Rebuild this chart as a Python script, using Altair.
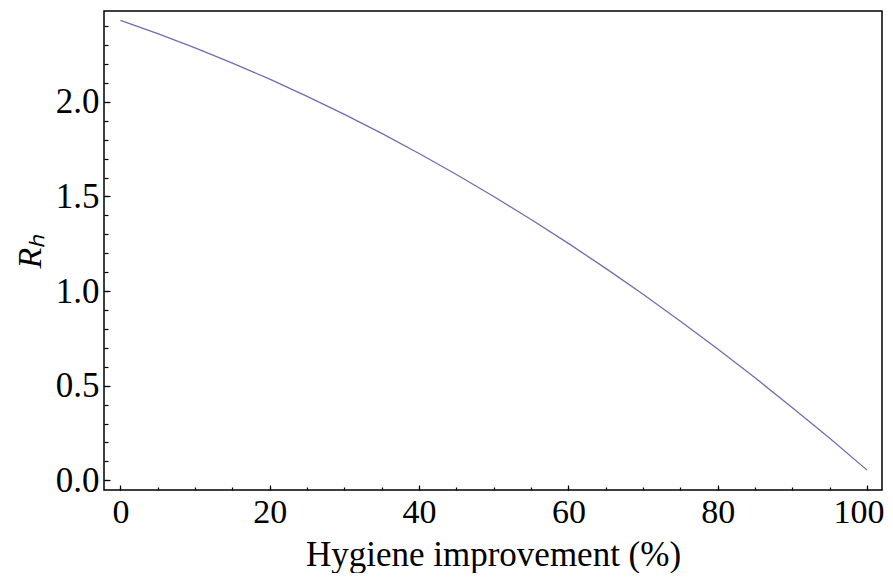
import altair as alt
import pandas as pd

# values
hygiene = [0, 5, 10, 15, 20, 25, 30, 35, 40, 45, 50, 55, 60, 65, 70, 75, 80, 85, 90, 95, 100]
rh = [2.43, 2.36, 2.285, 2.205, 2.12, 2.029, 1.934, 1.833, 1.727, 1.616, 1.50,
      1.378, 1.252, 1.12, 0.983, 0.841, 0.694, 0.542, 0.384, 0.222, 0.054]

x_major = [0, 20, 40, 60, 80, 100]
x_minor = [v for v in range(0, 101, 5)]
y_major = [0.0, 0.5, 1.0, 1.5, 2.0]
y_minor = [round(i * 0.1, 1) for i in range(0, 25)]

df = pd.DataFrame({"h": hygiene, "r": rh})

FONT = "Liberation Serif"
LINE_COLOR = "#6e6eb2"

xscale = alt.Scale(domain=[-2.2, 102], nice=False, zero=False)
yscale = alt.Scale(domain=[-0.051, 2.48], nice=False, zero=False)

base = alt.Chart(df)

major = base.mark_line(color=LINE_COLOR, strokeWidth=1.3).encode(
    x=alt.X("h:Q", scale=xscale,
            axis=alt.Axis(orient="bottom", values=x_major, offset=-5, tickSize=5,
                          domain=False, grid=False, tickColor="black", tickWidth=1.2,
                          labelFont=FONT, labelFontSize=34, labelColor="black",
                          labelPadding=5, labelFlush=15.6, labelFlushOffset=17,
                          labelOverlap=False,
                          title="Hygiene improvement (%)", titleFont=FONT,
                          titleFontSize=35, titleFontWeight="normal", titleColor="black",
                          titlePadding=8)),
    y=alt.Y("r:Q", scale=yscale,
            axis=alt.Axis(orient="left", values=y_major, offset=-6, tickSize=6,
                          domain=False, grid=False, tickColor="black", tickWidth=1.2,
                          format=".1f",
                          labelFont=FONT, labelFontSize=35, labelColor="black",
                          labelPadding=5, labelFlush=False, labelOverlap=False,
                          title="Rₕ", titleFont=FONT, titleFontStyle="italic",
                          titleFontSize=34, titleFontWeight="normal", titleColor="black",
                          titlePadding=8)),
)

minor = base.mark_line(opacity=0).encode(
    x=alt.X("h:Q", scale=xscale,
            axis=alt.Axis(orient="bottom", values=x_minor, offset=-3, tickSize=3,
                          domain=False, grid=False, tickColor="black", tickWidth=1.2,
                          labels=False, title=None)),
    y=alt.Y("r:Q", scale=yscale,
            axis=alt.Axis(orient="left", values=y_minor, offset=-4, tickSize=4,
                          domain=False, grid=False, tickColor="black", tickWidth=1.2,
                          labels=False, title=None)),
)

chart = alt.layer(major, minor).resolve_axis(x="independent", y="independent").properties(
    width=778, height=479,
    autosize=alt.AutoSizeParams(type="none"),
    padding={"left": 96, "top": 3, "right": 3, "bottom": 83},
).configure(background="white").configure_view(stroke="black", strokeWidth=1.5)

chart.save("out.html", embed_options={"renderer": "svg", "actions": False})
